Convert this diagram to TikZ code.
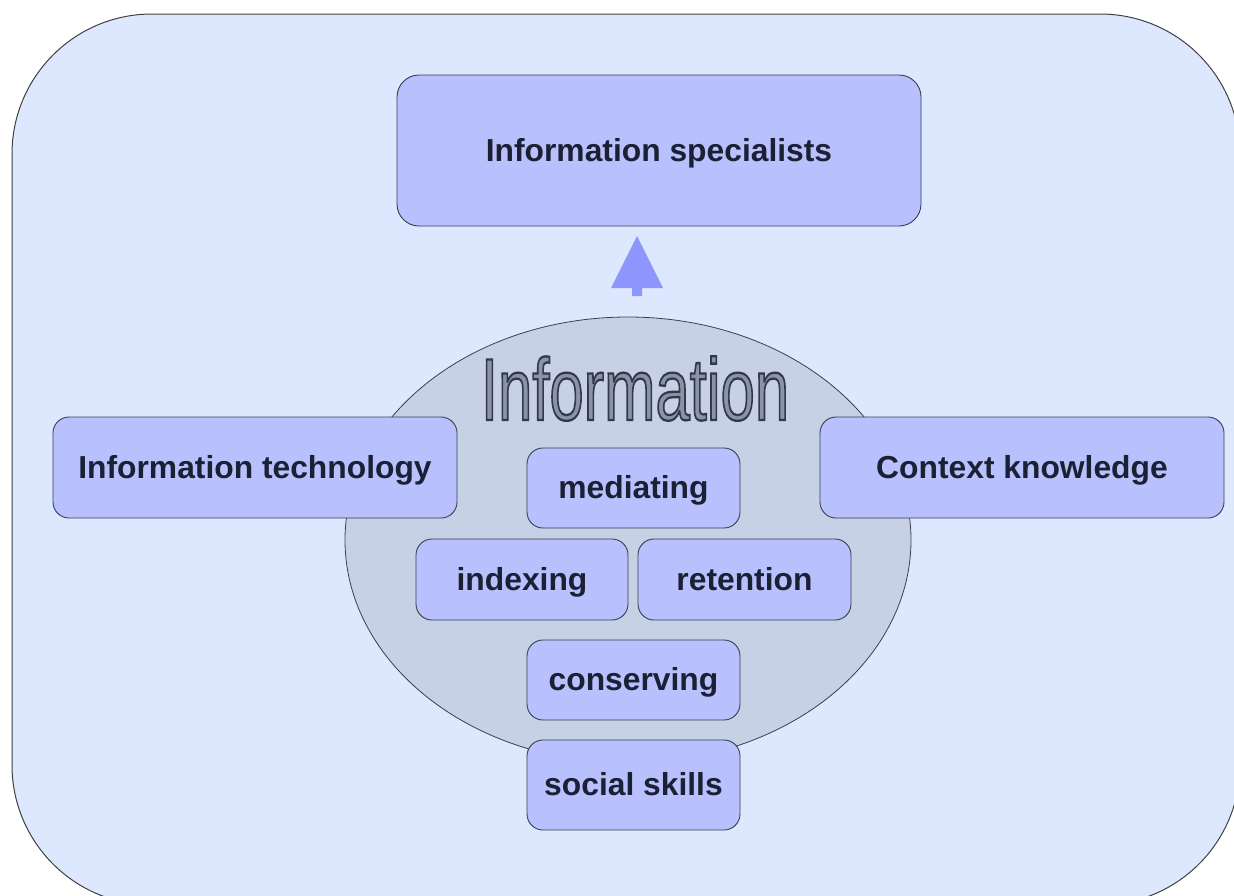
\documentclass[tikz,border=0pt]{standalone}
\usepackage{fontspec}
\setmainfont{Liberation Sans}
\newfontfamily\bigfont[FakeBold=2.6]{Liberation Sans}
\definecolor{outerfill}{HTML}{DDE8FE}
\definecolor{boxfill}{HTML}{B9C0FE}
\definecolor{boxline}{HTML}{3A3F4F}
\definecolor{ellfill}{HTML}{C7D1E5}
\definecolor{arrowfill}{HTML}{8C96FD}
\definecolor{bigtext}{HTML}{8A93A8}
\definecolor{txt}{HTML}{1C2033}
\begin{document}
\begin{tikzpicture}[x=1pt,y=-1pt,
  box/.style={draw=boxline, fill=boxfill, line width=0.9pt, rounded corners=16pt,
    font=\fontsize{31.8}{38}\selectfont\bfseries, text=txt, inner sep=0pt, align=center,
    text height=22pt, text depth=1pt},
  bigbox/.style={box, rounded corners=22pt}]
\useasboundingbox (0,0) rectangle (1234,895);
\begin{scope}
\clip (0,0) rectangle (1234,895);
\draw[draw=black!75, fill=outerfill, line width=1pt, rounded corners=140pt] (12,14) rectangle (1240,905);
\end{scope}
% central ellipse
\draw[draw=boxline, fill=ellfill, line width=0.8pt] (628,540) ellipse [x radius=283, y radius=223];
% big title (outlined letters)
\node[anchor=base, inner sep=0pt] (infotitle) at (635,420)
  {\scalebox{0.7}[1]{\fontsize{88}{100}\bigfont\color{bigtext}\special{pdf:literal direct 0.2 0.22 0.29 RG}Information}};
% arrow
\fill[arrowfill] (637,236) -- (663,288) -- (642,288) -- (642,296) -- (632,296) -- (632,288) -- (611,288) -- cycle;
% boxes
\node[bigbox, minimum width=524pt, minimum height=151pt] (spec) at (659,150.5) {Information specialists};
\node[box, minimum width=404pt, minimum height=101pt] (tech) at (255,467.5) {Information technology};
\node[box, minimum width=404pt, minimum height=101pt] (ctx) at (1022,467.5) {Context knowledge};
\node[box, minimum width=213pt, minimum height=80pt] (med) at (633.5,488) {mediating};
\node[box, minimum width=212pt, minimum height=81pt] (idx) at (522,579.5) {indexing};
\node[box, minimum width=213pt, minimum height=81pt] (ret) at (744.5,579.5) {retention};
\node[box, minimum width=213pt, minimum height=80pt] (cons) at (633.5,680) {conserving};
\node[box, minimum width=213pt, minimum height=90pt] (soc) at (633.5,785) {social skills};
\end{tikzpicture}
\end{document}
